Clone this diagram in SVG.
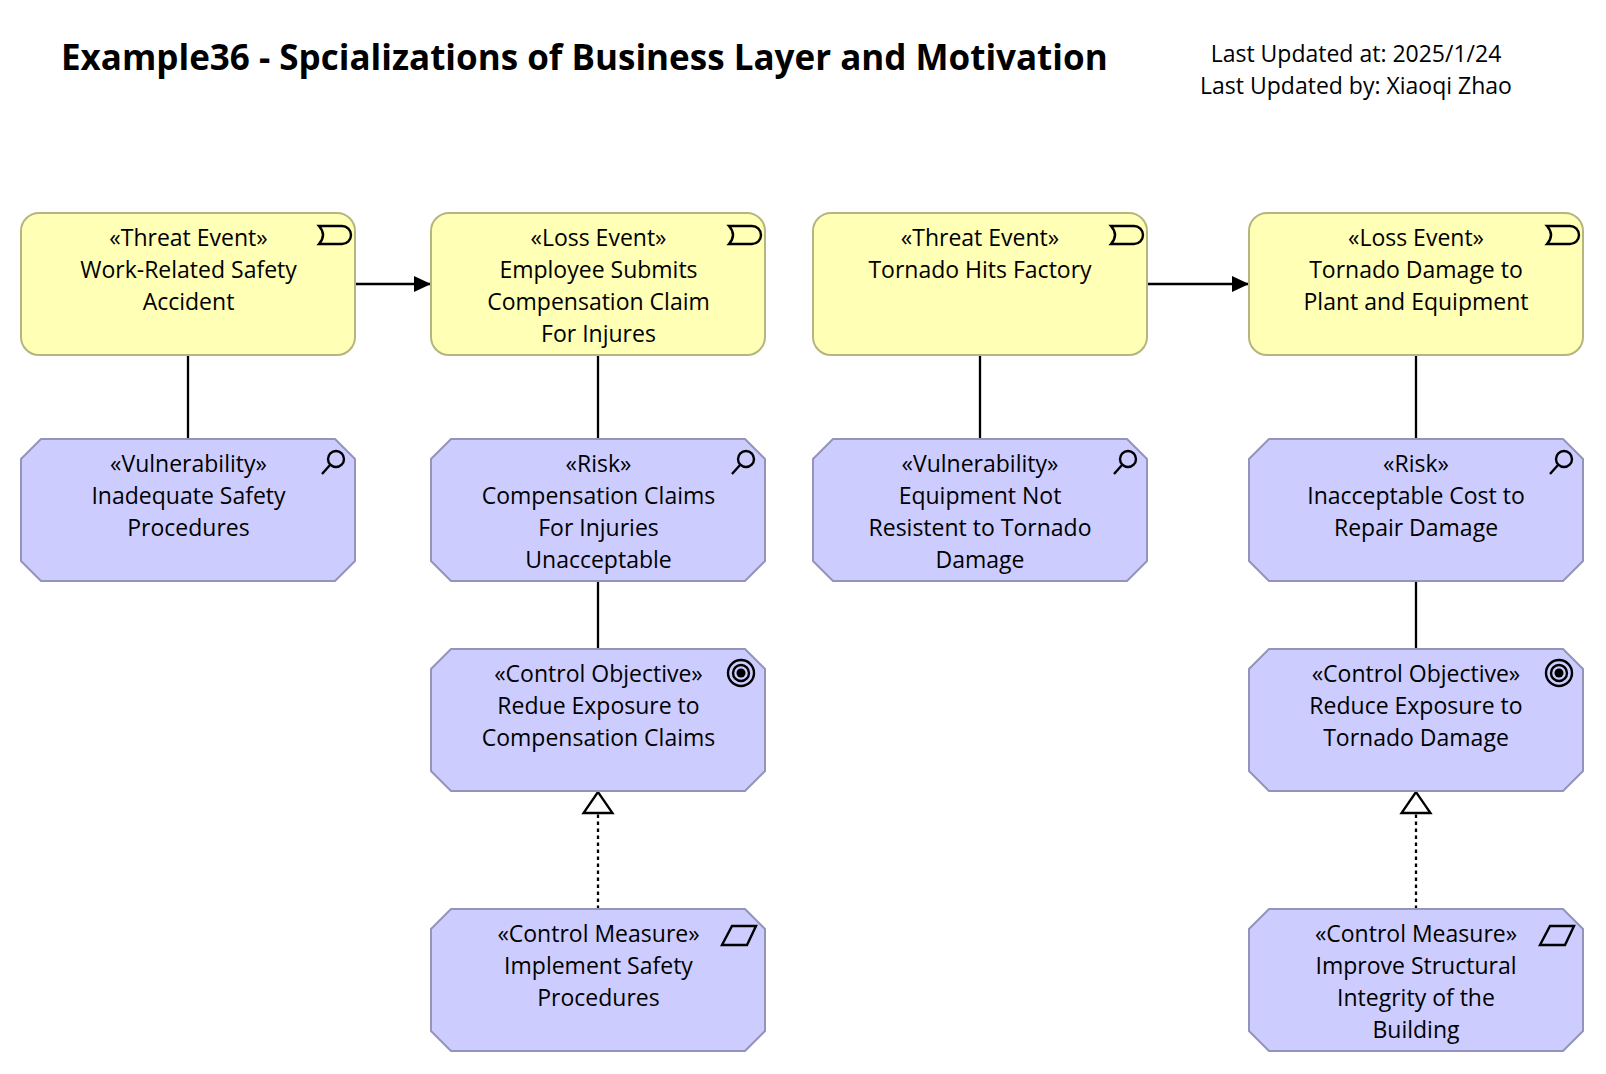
<svg xmlns="http://www.w3.org/2000/svg" width="1606" height="1074" viewBox="0 0 1606 1074">
<style>
text{font-family:"Open Sans","Noto Sans","Liberation Sans",sans-serif;fill:#000}
.t{font-size:23px;text-anchor:middle}
.title{font-size:35px;font-weight:700}
.y{fill:#FFFFB5;stroke:#B5B57F;stroke-width:2}
.p{fill:#CCCCFF;stroke:#9494BA;stroke-width:2}
.i{fill:none;stroke:#000;stroke-width:2.400}
.c{fill:none;stroke:#000;stroke-width:2.300}
</style>
<defs>
<marker id="solid" markerUnits="userSpaceOnUse" markerWidth="18" markerHeight="16" refX="17" refY="8" orient="auto"><path d="M0 0L17 8L0 16z" fill="#000"/></marker>
<g id="ev"><path class="i" d="M-32 -9H-9A9 9 0 0 1 -9 9H-32Q-24 0 -32 -9Z"/></g>
<g id="mag"><circle class="i" cx="-19" cy="-7" r="8"/><path class="i" d="M-25 -1L-33 8"/></g>
<g id="goal"><circle class="i" cx="0" cy="0" r="13"/><circle class="i" cx="0" cy="0" r="8"/><circle cx="0" cy="0" r="4.500" fill="#000"/></g>
<path id="para" class="i" d="M-34 9.500L-24 -9.500H0L-9 9.500Z"/>
</defs>
<g id="header">
<text class="title" x="61" y="69.500">Example36 - Spcializations of Business Layer and Motivation</text>
<text class="t" x="1356" y="62">Last Updated at: 2025/1/24</text>
<text class="t" x="1356" y="94">Last Updated by: Xiaoqi Zhao</text>
</g>
<g id="connectors">
<path class="c" d="M355 284H431" marker-end="url(#solid)"/>
<path class="c" d="M1147 284H1249" marker-end="url(#solid)"/>
<path class="c" d="M188 355V439M598 355V439M598 581V649M980 355V439M1416 355V439M1416 581V649"/>
<path class="c" stroke-dasharray="3.500 3.500" d="M598 909V814M1416 909V814"/>
<path class="c" fill="#fff" d="M598 792L583.500 813H612.500ZM1416 792L1401.500 813H1430.500Z"/>
</g>
<g id="threat1"><rect class="y" x="21" y="213" width="334" height="142" rx="18"/><use href="#ev" x="351" y="235"/>
<text class="t" x="188.500" y="246">«Threat Event»</text><text class="t" x="188.500" y="278">Work-Related Safety</text><text class="t" x="188.500" y="310">Accident</text></g>
<g id="loss1"><rect class="y" x="431" y="213" width="334" height="142" rx="18"/><use href="#ev" x="761" y="235"/>
<text class="t" x="598.500" y="246">«Loss Event»</text><text class="t" x="598.500" y="278">Employee Submits</text><text class="t" x="598.500" y="310">Compensation Claim</text><text class="t" x="598.500" y="342">For Injures</text></g>
<g id="threat2"><rect class="y" x="813" y="213" width="334" height="142" rx="18"/><use href="#ev" x="1143" y="235"/>
<text class="t" x="980" y="246">«Threat Event»</text><text class="t" x="980" y="278">Tornado Hits Factory</text></g>
<g id="loss2"><rect class="y" x="1249" y="213" width="334" height="142" rx="18"/><use href="#ev" x="1579" y="235"/>
<text class="t" x="1416" y="246">«Loss Event»</text><text class="t" x="1416" y="278">Tornado Damage to</text><text class="t" x="1416" y="310">Plant and Equipment</text></g>
<g id="vuln1"><path class="p" d="M41 439H335L355 459V561L335 581H41L21 561V459Z"/><use href="#mag" x="355" y="466"/>
<text class="t" x="188.500" y="472">«Vulnerability»</text><text class="t" x="188.500" y="504">Inadequate Safety</text><text class="t" x="188.500" y="536">Procedures</text></g>
<g id="risk1"><path class="p" d="M451 439H745L765 459V561L745 581H451L431 561V459Z"/><use href="#mag" x="765" y="466"/>
<text class="t" x="598.500" y="472">«Risk»</text><text class="t" x="598.500" y="504">Compensation Claims</text><text class="t" x="598.500" y="536">For Injuries</text><text class="t" x="598.500" y="568">Unacceptable</text></g>
<g id="vuln2"><path class="p" d="M833 439H1127L1147 459V561L1127 581H833L813 561V459Z"/><use href="#mag" x="1147" y="466"/>
<text class="t" x="980" y="472">«Vulnerability»</text><text class="t" x="980" y="504">Equipment Not</text><text class="t" x="980" y="536">Resistent to Tornado</text><text class="t" x="980" y="568">Damage</text></g>
<g id="risk2"><path class="p" d="M1269 439H1563L1583 459V561L1563 581H1269L1249 561V459Z"/><use href="#mag" x="1583" y="466"/>
<text class="t" x="1416" y="472">«Risk»</text><text class="t" x="1416" y="504">Inacceptable Cost to</text><text class="t" x="1416" y="536">Repair Damage</text></g>
<g id="objective1"><path class="p" d="M451 649H745L765 669V771L745 791H451L431 771V669Z"/><use href="#goal" x="741" y="673"/>
<text class="t" x="598.500" y="682">«Control Objective»</text><text class="t" x="598.500" y="714">Redue Exposure to</text><text class="t" x="598.500" y="746">Compensation Claims</text></g>
<g id="objective2"><path class="p" d="M1269 649H1563L1583 669V771L1563 791H1269L1249 771V669Z"/><use href="#goal" x="1559" y="673"/>
<text class="t" x="1416" y="682">«Control Objective»</text><text class="t" x="1416" y="714">Reduce Exposure to</text><text class="t" x="1416" y="746">Tornado Damage</text></g>
<g id="measure1"><path class="p" d="M451 909H745L765 929V1031L745 1051H451L431 1031V929Z"/><use href="#para" x="756" y="935.500"/>
<text class="t" x="598.500" y="942">«Control Measure»</text><text class="t" x="598.500" y="974">Implement Safety</text><text class="t" x="598.500" y="1006">Procedures</text></g>
<g id="measure2"><path class="p" d="M1269 909H1563L1583 929V1031L1563 1051H1269L1249 1031V929Z"/><use href="#para" x="1574" y="935.500"/>
<text class="t" x="1416" y="942">«Control Measure»</text><text class="t" x="1416" y="974">Improve Structural</text><text class="t" x="1416" y="1006">Integrity of the</text><text class="t" x="1416" y="1038">Building</text></g>
</svg>
